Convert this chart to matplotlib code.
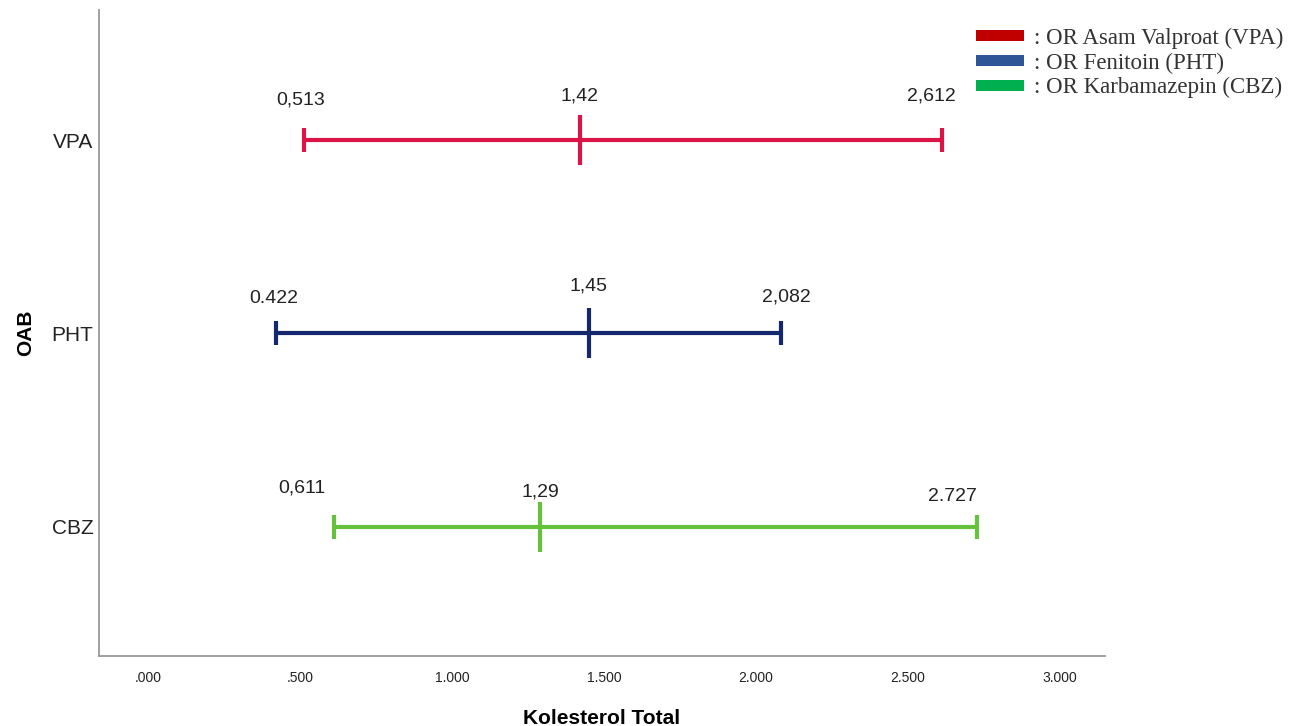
import matplotlib
matplotlib.use("Agg")
from matplotlib import pyplot as plt
from matplotlib.patches import Patch

# data
groups = ["VPA", "PHT", "CBZ"]
lower = [0.513, 0.422, 0.611]
odds = [1.42, 1.45, 1.29]
upper = [2.612, 2.082, 2.727]
lo_txt = ["0,513", "0.422", "0,611"]
or_txt = ["1,42", "1,45", "1,29"]
hi_txt = ["2,612", "2,082", "2.727"]
xticks = [0, 0.5, 1.0, 1.5, 2.0, 2.5, 3.0]
xtick_txt = [".000", ".500", "1.000", "1.500", "2.000", "2.500", "3.000"]
legend_txt = [": OR Asam Valproat (VPA)", ": OR Fenitoin (PHT)", ": OR Karbamazepin (CBZ)"]

line_colors = ["#dc1446", "#14286e", "#66c23c"]
legend_colors = ["#c00000", "#2f5597", "#00b050"]

# label offsets in points (dx, dy) for lo / or / hi labels
lo_off = [(-2, 29), (-2, 25), (-23, 28)]
or_off = [(0, 32), (0, 34), (0, 25)]
hi_off = [(-8, 32), (4, 26), (-18, 22)]

sans = ["Liberation Sans Narrow", "Liberation Sans", "DejaVu Sans"]
serif = ["Liberation Serif", "DejaVu Serif"]

fig = plt.figure(figsize=(13.01, 7.26), dpi=100)
ax = fig.add_axes([0.0761, 0.0964, 0.7732, 0.8898])

for i, g in enumerate(groups):
    c = line_colors[i]
    ax.errorbar([odds[i]], [i], xerr=[[odds[i] - lower[i]], [upper[i] - odds[i]]],
                fmt="none", ecolor=c, elinewidth=3, capsize=8.5, capthick=3)
    ax.plot([odds[i]], [i], marker="|", color=c, markersize=36, markeredgewidth=3)
    for v, t, off in [(lower[i], lo_txt[i], lo_off[i]), (odds[i], or_txt[i], or_off[i]),
                      (upper[i], hi_txt[i], hi_off[i])]:
        ax.annotate(t, (v, i), xytext=off, textcoords="offset points",
                    ha="center", va="center", fontsize=14, family=sans, color="#222222")

ax.set_xlim(-0.161, 3.148)
ax.set_ylim(2.667, -0.672)
ax.set_yticks(range(len(groups)))
ax.set_yticklabels(groups, family=sans, fontsize=15, color="#222222")
ax.set_xticks(xticks)
ax.set_xticklabels(xtick_txt, family=sans, fontsize=10, color="#222222")
ax.tick_params(length=0)
ax.tick_params(axis="x", pad=11)
ax.tick_params(axis="y", pad=4)
for s in ["top", "right"]:
    ax.spines[s].set_visible(False)
for s in ["left", "bottom"]:
    ax.spines[s].set_color("#999999")
    ax.spines[s].set_linewidth(1.3)

ax.set_xlabel("Kolesterol Total", family=sans, fontsize=15, fontweight="bold", labelpad=17)
ax.set_ylabel("OAB", family=sans, fontsize=15, fontweight="bold", labelpad=12)

handles = [Patch(facecolor=c, edgecolor="none") for c in legend_colors]
leg = fig.legend(handles, legend_txt, loc="upper right", bbox_to_anchor=(0.997, 0.981),
                 frameon=False, prop={"family": serif, "size": 16.5},
                 handlelength=2.1, handleheight=0.36, handletextpad=0.45, labelspacing=0.16,
                 borderaxespad=0.2)
for t in leg.get_texts():
    t.set_color("#333333")

fig.savefig("out.png", dpi=100)
